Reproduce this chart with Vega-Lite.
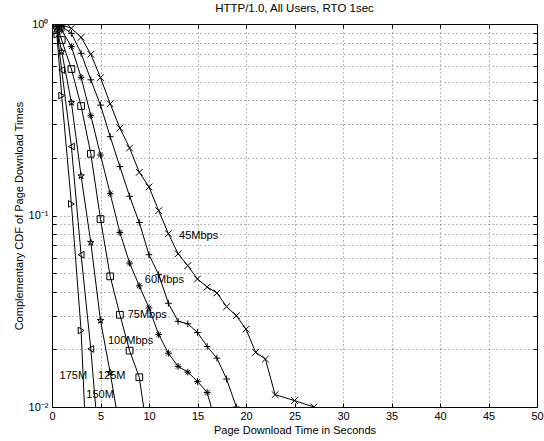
{
  "$schema": "https://vega.github.io/schema/vega-lite/v6.json",
  "autosize": "none",
  "width": 485,
  "height": 383,
  "padding": {"left": 52, "top": 24, "right": 7, "bottom": 34},
  "background": "white",
  "config": {
    "font": "Liberation Sans",
    "view": {"stroke": "black", "strokeWidth": 1},
    "axis": {"labelFont": "Liberation Sans", "titleFont": "Liberation Sans", "labelFontSize": 11, "titleFontSize": 11, "titleFontWeight": "normal", "labelColor": "black", "titleColor": "black", "domainColor": "black", "tickColor": "black"}
  },
  "title": {"text": "HTTP/1.0, All Users, RTO 1sec", "fontSize": 11.5, "fontWeight": "normal", "font": "Liberation Sans", "color": "black", "anchor": "middle", "offset": 4},
  "resolve": {"axis": {"x": "independent", "y": "independent"}},
  "datasets": {
    "curves": [
      {"series": "45Mbps", "t": 0.5, "p": 1.0},
      {"series": "45Mbps", "t": 1, "p": 0.99},
      {"series": "45Mbps", "t": 2, "p": 0.95},
      {"series": "45Mbps", "t": 3, "p": 0.852},
      {"series": "45Mbps", "t": 4, "p": 0.695},
      {"series": "45Mbps", "t": 5, "p": 0.525},
      {"series": "45Mbps", "t": 6, "p": 0.383},
      {"series": "45Mbps", "t": 7, "p": 0.286},
      {"series": "45Mbps", "t": 8, "p": 0.225},
      {"series": "45Mbps", "t": 9, "p": 0.168},
      {"series": "45Mbps", "t": 10, "p": 0.141},
      {"series": "45Mbps", "t": 11, "p": 0.106},
      {"series": "45Mbps", "t": 12, "p": 0.0803},
      {"series": "45Mbps", "t": 13, "p": 0.0631},
      {"series": "45Mbps", "t": 14, "p": 0.0547},
      {"series": "45Mbps", "t": 15, "p": 0.0466},
      {"series": "45Mbps", "t": 16, "p": 0.0423},
      {"series": "45Mbps", "t": 17, "p": 0.0394},
      {"series": "45Mbps", "t": 18, "p": 0.0334},
      {"series": "45Mbps", "t": 19, "p": 0.03},
      {"series": "45Mbps", "t": 20, "p": 0.0255},
      {"series": "45Mbps", "t": 21, "p": 0.0193},
      {"series": "45Mbps", "t": 22, "p": 0.0178},
      {"series": "45Mbps", "t": 23, "p": 0.0116},
      {"series": "45Mbps", "t": 25, "p": 0.0108},
      {"series": "45Mbps", "t": 27, "p": 0.01},
      {"series": "60Mbps", "t": 0.5, "p": 0.995},
      {"series": "60Mbps", "t": 1, "p": 0.97},
      {"series": "60Mbps", "t": 2, "p": 0.894},
      {"series": "60Mbps", "t": 3, "p": 0.703},
      {"series": "60Mbps", "t": 4, "p": 0.511},
      {"series": "60Mbps", "t": 5, "p": 0.377},
      {"series": "60Mbps", "t": 6, "p": 0.258},
      {"series": "60Mbps", "t": 7, "p": 0.18},
      {"series": "60Mbps", "t": 8, "p": 0.126},
      {"series": "60Mbps", "t": 9, "p": 0.0919},
      {"series": "60Mbps", "t": 10, "p": 0.0624},
      {"series": "60Mbps", "t": 11, "p": 0.0491},
      {"series": "60Mbps", "t": 12, "p": 0.0348},
      {"series": "60Mbps", "t": 13, "p": 0.028},
      {"series": "60Mbps", "t": 14, "p": 0.0272},
      {"series": "60Mbps", "t": 15, "p": 0.0245},
      {"series": "60Mbps", "t": 16, "p": 0.0207},
      {"series": "60Mbps", "t": 17, "p": 0.018},
      {"series": "60Mbps", "t": 18, "p": 0.014},
      {"series": "60Mbps", "t": 19, "p": 0.01},
      {"series": "75Mbps", "t": 0.5, "p": 0.99},
      {"series": "75Mbps", "t": 1, "p": 0.93},
      {"series": "75Mbps", "t": 2, "p": 0.762},
      {"series": "75Mbps", "t": 3, "p": 0.527},
      {"series": "75Mbps", "t": 4, "p": 0.332},
      {"series": "75Mbps", "t": 5, "p": 0.207},
      {"series": "75Mbps", "t": 6, "p": 0.13},
      {"series": "75Mbps", "t": 7, "p": 0.0815},
      {"series": "75Mbps", "t": 8, "p": 0.0564},
      {"series": "75Mbps", "t": 9, "p": 0.0429},
      {"series": "75Mbps", "t": 10, "p": 0.0329},
      {"series": "75Mbps", "t": 11, "p": 0.0239},
      {"series": "75Mbps", "t": 12, "p": 0.0191},
      {"series": "75Mbps", "t": 13, "p": 0.0163},
      {"series": "75Mbps", "t": 14, "p": 0.0152},
      {"series": "75Mbps", "t": 15, "p": 0.0136},
      {"series": "75Mbps", "t": 16, "p": 0.0119},
      {"series": "75Mbps", "t": 17, "p": 0.0078},
      {"series": "100Mbps", "t": 0.5, "p": 0.98},
      {"series": "100Mbps", "t": 1, "p": 0.825},
      {"series": "100Mbps", "t": 2, "p": 0.582},
      {"series": "100Mbps", "t": 3, "p": 0.373},
      {"series": "100Mbps", "t": 4, "p": 0.21},
      {"series": "100Mbps", "t": 5, "p": 0.0958},
      {"series": "100Mbps", "t": 6, "p": 0.0481},
      {"series": "100Mbps", "t": 7, "p": 0.0303},
      {"series": "100Mbps", "t": 8, "p": 0.0197},
      {"series": "100Mbps", "t": 9, "p": 0.0143},
      {"series": "100Mbps", "t": 10, "p": 0.0064},
      {"series": "125M", "t": 0.5, "p": 0.96},
      {"series": "125M", "t": 1, "p": 0.717},
      {"series": "125M", "t": 2, "p": 0.389},
      {"series": "125M", "t": 3, "p": 0.161},
      {"series": "125M", "t": 4, "p": 0.0723},
      {"series": "125M", "t": 5, "p": 0.0283},
      {"series": "125M", "t": 6, "p": 0.0151},
      {"series": "125M", "t": 7, "p": 0.0076},
      {"series": "150M", "t": 0.5, "p": 0.93},
      {"series": "150M", "t": 1, "p": 0.575},
      {"series": "150M", "t": 2, "p": 0.229},
      {"series": "150M", "t": 3, "p": 0.0624},
      {"series": "150M", "t": 4, "p": 0.0201},
      {"series": "150M", "t": 5, "p": 0.005},
      {"series": "175M", "t": 0.5, "p": 0.88},
      {"series": "175M", "t": 1, "p": 0.423},
      {"series": "175M", "t": 2, "p": 0.115},
      {"series": "175M", "t": 3, "p": 0.0251},
      {"series": "175M", "t": 4, "p": 0.0018}
    ],
    "labels": [
      {"text": "45Mbps", "t": 13.1, "p": 0.0783},
      {"text": "60Mbps", "t": 9.57, "p": 0.0462},
      {"text": "75Mbps", "t": 7.8, "p": 0.0303},
      {"text": "100Mbps", "t": 5.77, "p": 0.022},
      {"text": "175M", "t": 0.78, "p": 0.0145},
      {"text": "125M", "t": 4.74, "p": 0.0145},
      {"text": "150M", "t": 3.54, "p": 0.0116}
    ]
  },
  "layer": [
    {
      "data": {"name": "curves"},
      "mark": {"type": "line", "color": "black", "strokeWidth": 1, "clip": true},
      "encoding": {
        "x": {"field": "t", "type": "quantitative", "scale": {"domain": [0, 50], "nice": false},
          "axis": {"orient": "bottom", "values": [0, 5, 10, 15, 20, 25, 30, 35, 40, 45, 50], "title": "Page Download Time in Seconds", "grid": true, "gridDash": [1, 3], "gridColor": "#000000", "gridOpacity": 0.55, "tickSize": -4, "labelPadding": 7, "titlePadding": 3, "labelFlush": false}},
        "y": {"field": "p", "type": "quantitative", "scale": {"type": "log", "domain": [0.01, 1], "nice": false},
          "axis": {"orient": "left", "values": [0.01, 0.02, 0.03, 0.04, 0.05, 0.06, 0.07, 0.08, 0.09, 0.1, 0.2, 0.3, 0.4, 0.5, 0.6, 0.7, 0.8, 0.9, 1],
            "labelExpr": "datum.value == 1 ? '10⁰' : datum.value == 0.1 ? '10⁻¹' : datum.value == 0.01 ? '10⁻²' : ''",
            "title": "Complementary CDF of Page Download Times", "grid": true, "gridDash": [1, 3], "gridColor": "#000000", "gridOpacity": 0.55, "tickSize": -4, "labelPadding": 8, "titlePadding": 4, "labelFlush": false}},
        "detail": {"field": "series"},
        "order": {"field": "t", "type": "quantitative"}
      }
    },
    {
      "data": {"name": "curves"},
      "mark": {"type": "point", "filled": false, "stroke": "black", "strokeWidth": 1, "opacity": 1, "size": 45, "clip": true},
      "encoding": {
        "x": {"field": "t", "type": "quantitative",
          "axis": {"orient": "top", "values": [0, 5, 10, 15, 20, 25, 30, 35, 40, 45, 50], "labels": false, "title": null, "grid": false, "tickSize": -4, "domain": false}},
        "y": {"field": "p", "type": "quantitative",
          "axis": {"orient": "right", "values": [0.01, 0.02, 0.03, 0.04, 0.05, 0.06, 0.07, 0.08, 0.09, 0.1, 0.2, 0.3, 0.4, 0.5, 0.6, 0.7, 0.8, 0.9, 1], "labels": false, "title": null, "grid": false, "tickSize": -4, "domain": false}},
        "shape": {"field": "series", "type": "nominal", "legend": null,
          "scale": {"domain": ["45Mbps", "60Mbps", "75Mbps", "100Mbps", "125M", "150M", "175M"],
            "range": ["M-1,-1L1,1M-1,1L1,-1", "M-1,0L1,0M0,-1L0,1", "M-1,0L1,0M0,-1L0,1M-0.7,-0.7L0.7,0.7M-0.7,0.7L0.7,-0.7", "square", "M0,-1L0.225,-0.309L0.951,-0.309L0.363,0.118L0.588,0.809L0,0.382L-0.588,0.809L-0.363,0.118L-0.951,-0.309L-0.225,-0.309Z", "triangle-left", "triangle-right"]}}
      }
    },
    {
      "data": {"name": "labels"},
      "mark": {"type": "text", "align": "left", "baseline": "middle", "fontSize": 11, "font": "Liberation Sans", "color": "black"},
      "encoding": {
        "x": {"field": "t", "type": "quantitative", "axis": null},
        "y": {"field": "p", "type": "quantitative", "axis": null},
        "text": {"field": "text"}
      }
    }
  ]
}
